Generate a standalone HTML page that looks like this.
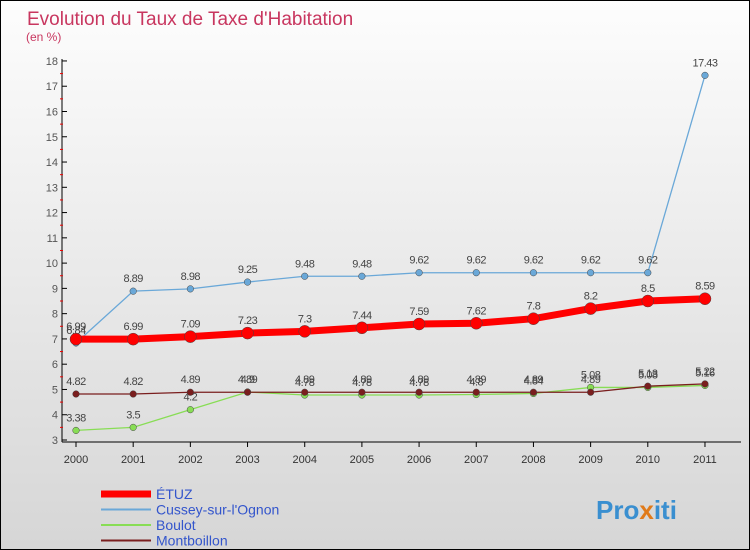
<!DOCTYPE html>
<html><head><meta charset="utf-8"><style>
body{margin:0;}
#c{width:748px;height:548px;border:1px solid #000;background:linear-gradient(#fdfdfd,#d6d6d6);position:relative;font-family:"Liberation Sans",sans-serif;overflow:hidden}
</style></head><body>
<div id="c">
<svg id="s" width="748" height="548" xmlns="http://www.w3.org/2000/svg">
<text x="26" y="24" font-size="19" fill="#c8365f">Evolution du Taux de Taxe d'Habitation</text>
<text x="25" y="40" font-size="12" fill="#c8365f">(en %)</text>
<g id="g"></g>
<text x="595" y="518" font-size="26" font-weight="bold" fill="#3a8fd0">Pro<tspan fill="#e07a1a">x</tspan>iti</text>
</svg></div>
<script>
const years=["2000","2001","2002","2003","2004","2005","2006","2007","2008","2009","2010","2011"];
const yTicks=[3,4,5,6,7,8,9,10,11,12,13,14,15,16,17,18];
const etuz=[6.99,6.99,7.09,7.23,7.3,7.44,7.59,7.62,7.8,8.2,8.5,8.59];
const cussey=[6.84,8.89,8.98,9.25,9.48,9.48,9.62,9.62,9.62,9.62,9.62,17.43];
const boulot=[3.38,3.5,4.2,4.9,4.78,4.78,4.78,4.8,4.84,5.08,5.08,5.16];
const montb=[4.82,4.82,4.89,4.89,4.89,4.89,4.89,4.89,4.89,4.89,5.13,5.22];
const names=["ÉTUZ","Cussey-sur-l'Ognon","Boulot","Montboillon"];
const NS="http://www.w3.org/2000/svg",g=document.getElementById('g');
const X=i=>75+i*57.18, Y=v=>439-(v-3)*25.27;
function el(t,a,p){const e=document.createElementNS(NS,t);for(const k in a)e.setAttribute(k,a[k]);(p||g).appendChild(e);return e;}
let ax=el('line',{x1:61,y1:58,x2:61,y2:441,stroke:'#000'});

let bx=el('line',{x1:61,y1:441,x2:740,y2:441,stroke:'#000'});

yTicks.forEach(v=>{el('line',{x1:61,x2:66,y1:Y(v),y2:Y(v),stroke:'#000'});
if(v<18)el('line',{x1:59,x2:62,y1:Y(v+0.5),y2:Y(v+0.5),stroke:'#e00'});
const t=el('text',{x:57,y:Y(v)+4,'font-size':11,fill:'#555','text-anchor':'end'});t.textContent=v;
});
years.forEach((y,i)=>{el('line',{x1:X(i),x2:X(i),y1:441,y2:446,stroke:'#000'});
const t=el('text',{x:X(i),y:462,'font-size':11,fill:'#333','text-anchor':'middle'});t.textContent=y;
});
function series(d,col,w,r,name){
const p=el('polyline',{points:d.map((v,i)=>X(i)+','+Y(v)).join(' '),fill:'none',stroke:col,'stroke-width':w});

d.forEach((v,i)=>{const c=el('circle',{cx:X(i),cy:Y(v),r:r,fill:col,stroke:'#444','stroke-width':0.5});

const t=el('text',{x:X(i),y:Y(v)-9,'font-size':11,fill:'#444','text-anchor':'middle','letter-spacing':'-0.5'});t.textContent=v;
});}
series(cussey,'#6aa8d8',1.3,3.3,'cussey');
series(boulot,'#88dd55',1.3,3.3,'boulot');
series(montb,'#7a1e1e',1.3,3.3,'montboillon');
series(etuz,'#ff0000',7,6,'etuz');
const cols=['#ff0000','#6aa8d8','#88dd55','#7a1e1e'],ws=[7,2,2,2];
names.forEach((n,i)=>{const y=493+i*15.5;
const l=el('line',{x1:100,x2:150,y1:y,y2:y,stroke:cols[i],'stroke-width':ws[i]});

const t=el('text',{x:155,y:y+5,'font-size':14,fill:'#3355cc'});t.textContent=n;
});
</script>
</body></html>
